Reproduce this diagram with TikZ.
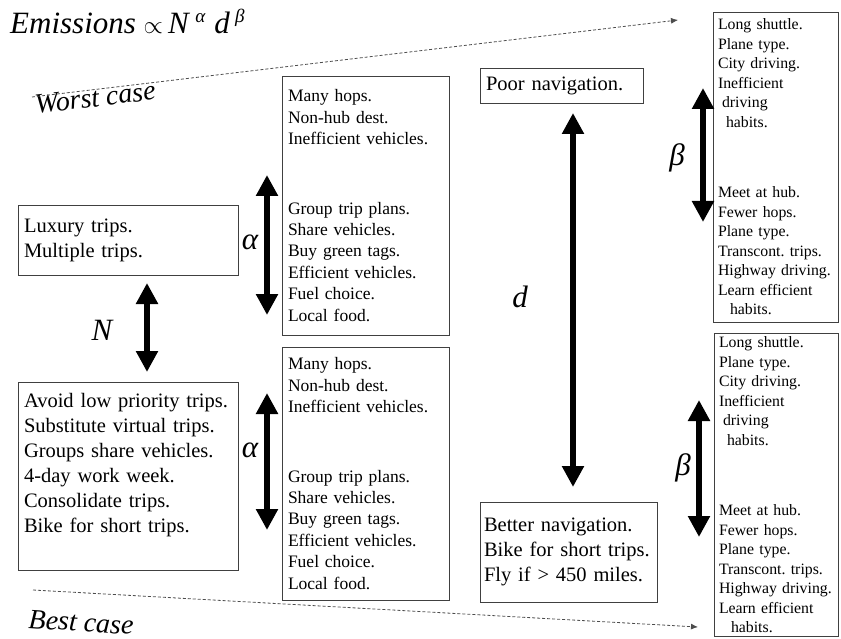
\documentclass[tikz,border=0pt]{standalone}
\usepackage{fontspec}
\setmainfont{Liberation Serif}
\usetikzlibrary{arrows.meta}
\frenchspacing
\begin{document}
\begin{tikzpicture}[
	x=1pt,y=-1pt,
	every node/.style={inner sep=0pt},
	txtbox/.style={draw=black!75,line width=0.9pt,rectangle,align=left,inner xsep=6pt},
	bigfont/.style={font=\fontsize{20.5}{25}\selectfont},
	midfont/.style={font=\fontsize{17.5}{21.4}\selectfont},
	smallfont/.style={font=\fontsize{15.8}{19.5}\selectfont},
	lbl/.style={font=\fontsize{31}{31}\selectfont\itshape},
	fatarrow/.style={line width=5.5pt,{Triangle[width=21pt,length=21pt]}-{Triangle[width=21pt,length=21pt]}},
	trend/.style={draw=black!70,line width=0.8pt,dash pattern=on 3pt off 2pt,-{Latex[length=7pt,width=6pt]}}
	]
	\useasboundingbox (0,0) rectangle (841,639);
	\node[anchor=base west,font=\fontsize{31}{31}\selectfont]  (title) at (10,34)  {\textit{Emissions} $\propto$\,\textit{N}\,\raisebox{11pt}{\fontsize{19}{19}\selectfont\textit{α}}\;\textit{d}\,\raisebox{11pt}{\fontsize{19}{19}\selectfont\textit{β}}};
	\node[anchor=base west,rotate=7,font=\fontsize{28}{28}\selectfont\itshape]  (worst) at (36,114)  {Worst case};
	\node[anchor=base west,rotate=-3.5,font=\fontsize{28}{28}\selectfont\itshape]  (best) at (28,628)  {Best case};
	\node[txtbox,bigfont,text width=208pt,minimum height=70pt]  (luxury) at (128,240)  {Luxury trips.\\Multiple trips.};
	\node[txtbox,bigfont,text width=208pt,minimum height=188pt]  (avoid) at (128,476)  {Avoid low priority trips.\\Substitute virtual trips.\\Groups share vehicles.\\4-day work week.\\Consolidate trips.\\Bike for short trips.\\[2pt]\mbox{}};
	\node[txtbox,midfont,text width=155pt,minimum height=259pt]  (hopsA) at (365.5,205.5)  {Many hops.\\Non-hub dest.\\Inefficient vehicles.\\[48pt]Group trip plans.\\Share vehicles.\\Buy green tags.\\Efficient vehicles.\\Fuel choice.\\Local food.};
	\node[txtbox,midfont,text width=155pt,minimum height=253pt]  (hopsB) at (365.5,473.5)  {Many hops.\\Non-hub dest.\\Inefficient vehicles.\\[48pt]Group trip plans.\\Share vehicles.\\Buy green tags.\\Efficient vehicles.\\Fuel choice.\\Local food.};
	\node[txtbox,bigfont,text width=151pt,minimum height=35pt]  (poor) at (561.5,85.5)  {Poor navigation.};
	\node[txtbox,bigfont,inner xsep=4pt,text width=169pt,minimum height=100pt]  (better) at (568.5,552)  {Better navigation.\\Bike for short trips.\\Fly if > 450 miles.};
	\node[txtbox,smallfont,inner xsep=5pt,text width=115pt,minimum height=310pt]  (shuttleA) at (775.5,167)  {Long shuttle.\\Plane type.\\City driving.\\Inefficient\\\hspace*{4pt}driving\\\hspace*{8pt}habits.\\[51pt]Meet at hub.\\Fewer hops.\\Plane type.\\Transcont. trips.\\Highway driving.\\Learn efficient\\\hspace*{12pt}habits.};
	\node[txtbox,smallfont,inner xsep=5pt,text width=114pt,minimum height=303pt]  (shuttleB) at (776,485)  {Long shuttle.\\Plane type.\\City driving.\\Inefficient\\\hspace*{4pt}driving\\\hspace*{8pt}habits.\\[51pt]Meet at hub.\\Fewer hops.\\Plane type.\\Transcont. trips.\\Highway driving.\\Learn efficient\\\hspace*{12pt}habits.};
	% arrow ends
	\coordinate (nUp) at (147,283);
	\coordinate (nDown) at (147,372);
	\coordinate (aUpA) at (267,175);
	\coordinate (aDownA) at (267,315);
	\coordinate (aUpB) at (267,393);
	\coordinate (aDownB) at (267,530);
	\coordinate (dUp) at (573,113);
	\coordinate (dDown) at (573,487);
	\coordinate (bUpA) at (703,88);
	\coordinate (bDownA) at (703,222);
	\coordinate (bUpB) at (699,400);
	\coordinate (bDownB) at (699,537);
	\coordinate (worstStart) at (32,97);
	\coordinate (worstEnd) at (678,20);
	\coordinate (bestStart) at (33,590);
	\coordinate (bestEnd) at (698,627);
	\path[draw,fatarrow]  (nUp) -- (nDown);
	\path[draw,fatarrow]  (aUpA) -- (aDownA);
	\path[draw,fatarrow]  (aUpB) -- (aDownB);
	\path[draw,fatarrow]  (dUp) -- (dDown);
	\path[draw,fatarrow]  (bUpA) -- (bDownA);
	\path[draw,fatarrow]  (bUpB) -- (bDownB);
	\path[trend]  (worstStart) -- (worstEnd);
	\path[trend]  (bestStart) -- (bestEnd);
	\node[lbl]  (nLbl) at (102,330)  {N};
	\node[lbl]  (aLblA) at (250,242)  {α};
	\node[lbl]  (aLblB) at (250,450)  {α};
	\node[lbl]  (dLbl) at (520,297)  {d};
	\node[lbl]  (bLblA) at (677,158)  {β};
	\node[lbl]  (bLblB) at (683,468)  {β};
\end{tikzpicture}
\end{document}
